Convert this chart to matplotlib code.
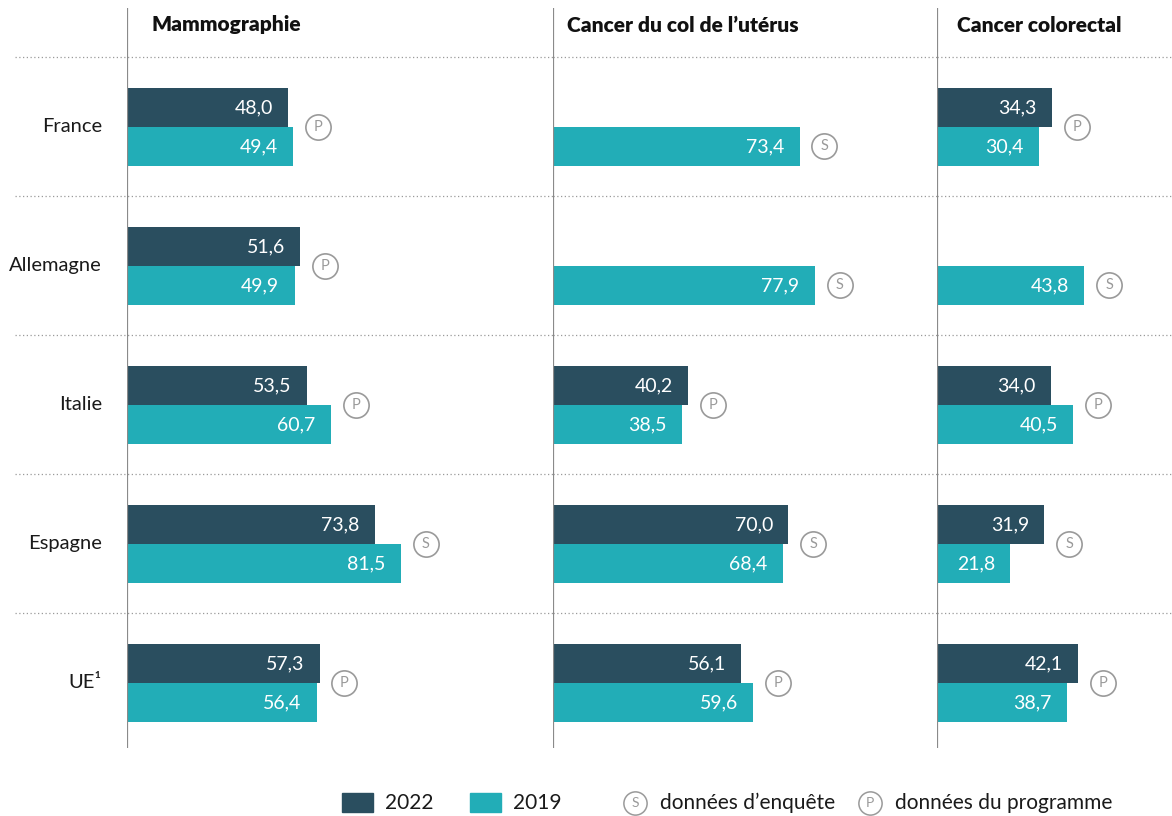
import matplotlib.pyplot as plt
import numpy as np
from matplotlib.patches import Rectangle

plt.rcParams['font.family'] = ['Lato', 'DejaVu Sans']

countries = ["France", "Allemagne", "Italie", "Espagne", "UE¹"]
titles = ["Mammographie", "Cancer du col de l’utérus", "Cancer colorectal"]

mammo_2022 = [48.0, 51.6, 53.5, 73.8, 57.3]
mammo_2019 = [49.4, 49.9, 60.7, 81.5, 56.4]
mammo_src = ["P", "P", "P", "S", "P"]

col_2022 = [np.nan, np.nan, 40.2, 70.0, 56.1]
col_2019 = [73.4, 77.9, 38.5, 68.4, 59.6]
col_src = ["S", "S", "P", "S", "P"]

colo_2022 = [34.3, np.nan, 34.0, 31.9, 42.1]
colo_2019 = [30.4, 43.8, 40.5, 21.8, 38.7]
colo_src = ["P", "S", "P", "S", "P"]

panels = [(mammo_2022, mammo_2019, mammo_src),
          (col_2022, col_2019, col_src),
          (colo_2022, colo_2019, colo_src)]

c2022 = "#2a4e5f"
c2019 = "#22adb7"
grey = "#9a9a9a"

W, H = 1172, 816
px_per_unit = 3.36
edges = [127, 553, 937, 1172]
title_x = [152, 567, 957]
circ_s = 330

fig = plt.figure(figsize=(W / 100, H / 100), dpi=100)

y = np.arange(len(countries))
bh = 0.28
bottom = 1 - 748 / H
height = 740 / H

for i, (v22, v19, src) in enumerate(panels):
    left, right = edges[i], edges[i + 1]
    ax = fig.add_axes([left / W, bottom, (right - left) / W, height])
    ax.set_xlim(0, (right - left) / px_per_unit)
    ax.set_ylim(4.468, -0.856)
    ax.axis("off")
    ax.axvline(0, color="#8a8a8a", lw=1.6, zorder=5)

    # dotted separators
    xmin = (15 - left) / (right - left) if i == 0 else 0
    for s in np.arange(-0.5, len(countries) - 1, 1.0):
        ax.axhline(s, xmin=xmin, xmax=1, color=grey, lw=0.9, ls=(0, (1, 2)),
                   clip_on=False, zorder=1)

    ax.barh(y - bh / 2, v22, height=bh, color=c2022, zorder=3)
    ax.barh(y + bh / 2, v19, height=bh, color=c2019, zorder=3)

    for j in range(len(countries)):
        for val, yy in ((v22[j], y[j] - bh / 2), (v19[j], y[j] + bh / 2)):
            if np.isnan(val):
                continue
            ax.annotate(f"{val:.1f}".replace(".", ","), (val, yy),
                        xytext=(-11, 0), textcoords="offset points",
                        ha="right", va="center", color="white", fontsize=14,
                        zorder=4)
        vmax = np.nanmax([v22[j], v19[j]])
        cy = y[j] + bh / 2 if np.isnan(v22[j]) else y[j]
        cx = vmax + 7.4
        ax.scatter([cx], [cy], s=circ_s, facecolor="white", edgecolor=grey,
                   lw=1.2, zorder=4, clip_on=False)
        ax.text(cx, cy, src[j], ha="center", va="center", color=grey,
                fontsize=10.5, zorder=5)

    if i == 0:
        for j, name in enumerate(countries):
            ax.annotate(name, (0, y[j]), xytext=(-25 * 0.72, 0),
                        textcoords="offset points", ha="right", va="center",
                        fontsize=14.5, color="#1a1a1a", annotation_clip=False)

    fig.text(title_x[i] / W, 1 - 25 / H, titles[i], ha="left", va="center",
             fontsize=15, fontweight="heavy", color="#111111")

# legend drawn in pixel space
lg = fig.add_axes([0, 0, 1, 1], zorder=-1)
lg.set_xlim(0, W)
lg.set_ylim(H, 0)
lg.axis("off")
ly = 803
for x0, col, lab in ((342, c2022, "2022"), (470, c2019, "2019")):
    lg.add_patch(Rectangle((x0, ly - 10), 31, 19, color=col))
    lg.text(x0 + 43, ly, lab, ha="left", va="center", fontsize=15,
            color="#1a1a1a")
for cx, letter, lab in ((635, "S", "données d’enquête"),
                        (870, "P", "données du programme")):
    lg.scatter([cx], [ly], s=280, facecolor="white", edgecolor=grey, lw=1.1)
    lg.text(cx, ly, letter, ha="center", va="center", color=grey, fontsize=10)
    lg.text(cx + 25, ly, lab, ha="left", va="center", fontsize=15,
            color="#1a1a1a")

fig.savefig("out.png", dpi=100)
